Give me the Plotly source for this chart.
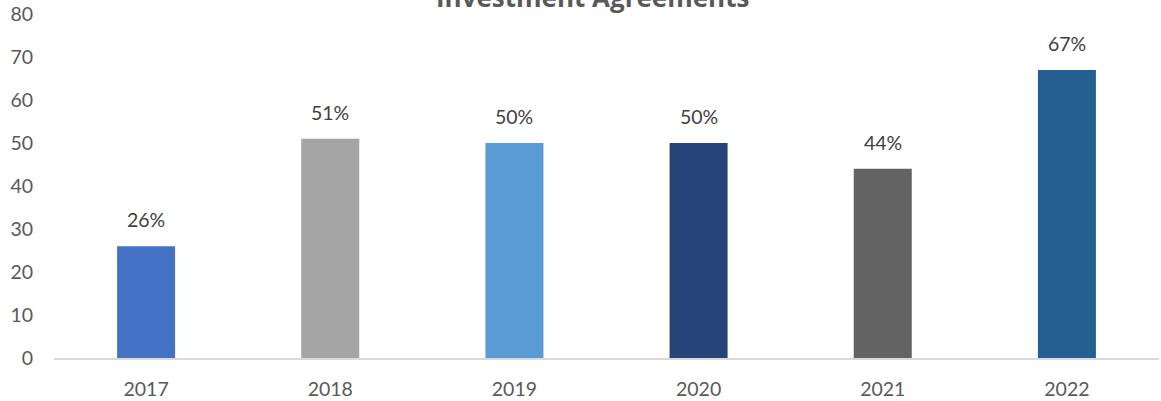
import plotly.graph_objects as go

years = ["2017", "2018", "2019", "2020", "2021", "2022"]
values = [26, 51, 50, 50, 44, 67]
labels = ["26%", "51%", "50%", "50%", "44%", "67%"]
colors = ["#4472C4", "#A5A5A5", "#5B9BD5", "#264478", "#636363", "#255E91"]
y_ticks = [0, 10, 20, 30, 40, 50, 60, 70, 80]
title = "Investment Agreements"

FONT = "Lato, Open Sans, sans-serif"

fig = go.Figure()
fig.add_trace(go.Bar(x=years, y=values, marker=dict(color=colors, line=dict(width=0)),
                     width=0.315, hoverinfo="skip"))

for i, (v, t) in enumerate(zip(values, labels)):
    fig.add_annotation(x=i, y=v, text=t, showarrow=False, yanchor="bottom", yshift=13,
                       font=dict(family=FONT, size=19.5, color="#404040"))

fig.add_annotation(x=0.5, y=1, xref="paper", yref="paper", text="<b>" + title + "</b>",
                   showarrow=False, yanchor="middle", yshift=17, xshift=-14,
                   font=dict(family="Open Sans, sans-serif", size=26, color="#595959"))

fig.update_layout(
    width=1161, height=401,
    margin=dict(l=54, r=2, t=14, b=43),
    plot_bgcolor="white", paper_bgcolor="white",
    showlegend=False,
    xaxis=dict(type="category", range=[-0.5, len(years) - 0.5], showgrid=False,
               showline=True, linecolor="#D9D9D9", linewidth=1.5, ticks="",
               tickfont=dict(family=FONT, size=19.5, color="#595959"),
               ticklabelstandoff=13),
    yaxis=dict(range=[0, 80], tickvals=y_ticks, showgrid=False, zeroline=False,
               showline=False, ticks="",
               tickfont=dict(family=FONT, size=19.5, color="#595959"),
               ticklabelstandoff=20),
)

fig.write_html("out.html")
